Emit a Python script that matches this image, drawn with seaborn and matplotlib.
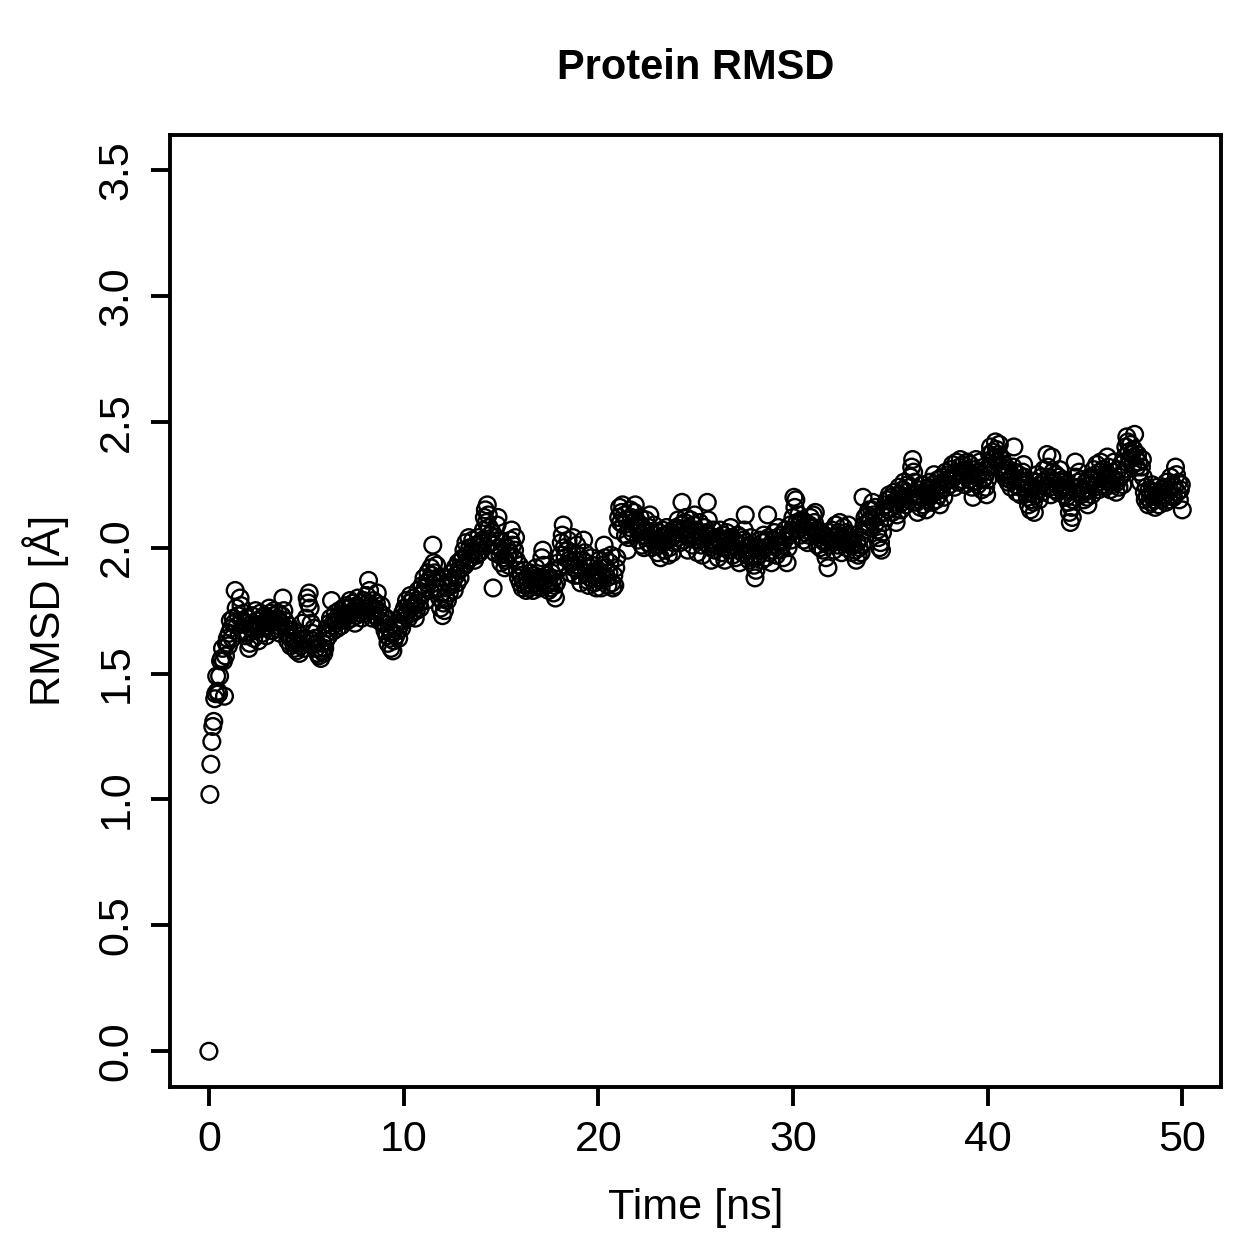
import numpy as np
import pandas as pd
import matplotlib
matplotlib.use("Agg")
import matplotlib.pyplot as plt
import seaborn as sns

# Frame spacing of the trajectory (ns)
time_step_ns = 0.05

# RMSD values (Å), 20 frames per ns
rmsd_00_09 = [
    0.00, 1.02, 1.14, 1.23, 1.29, 1.31, 1.40, 1.42, 1.49, 1.43, 1.42, 1.49, 1.55, 1.56, 1.60, 1.55, 1.41, 1.57, 1.62, 1.64,
    1.61, 1.66, 1.71, 1.68, 1.64, 1.72, 1.70, 1.83, 1.76, 1.69, 1.73, 1.66, 1.80, 1.77, 1.71, 1.67, 1.74, 1.70, 1.65, 1.72,
    1.66, 1.60, 1.62, 1.68, 1.73, 1.70, 1.64, 1.67, 1.75, 1.71, 1.68, 1.63, 1.69, 1.74, 1.72, 1.66, 1.70, 1.73, 1.68, 1.65,
    1.69, 1.72, 1.76, 1.74, 1.70, 1.67, 1.73, 1.75, 1.71, 1.68, 1.72, 1.74, 1.69, 1.66, 1.70, 1.73, 1.80, 1.75, 1.71, 1.68,
    1.66, 1.63, 1.69, 1.65, 1.61, 1.64, 1.67, 1.62, 1.60, 1.63, 1.59, 1.66, 1.62, 1.58, 1.61, 1.65, 1.70, 1.63, 1.60, 1.64,
    1.72, 1.80, 1.78, 1.82, 1.76, 1.70, 1.66, 1.63, 1.68, 1.64, 1.60, 1.62, 1.58, 1.57, 1.60, 1.56, 1.59, 1.62, 1.58, 1.60,
    1.63, 1.66, 1.68, 1.65, 1.70, 1.72, 1.79, 1.69, 1.67, 1.71, 1.74, 1.70, 1.68, 1.72, 1.75, 1.71, 1.69, 1.73, 1.76, 1.72,
    1.74, 1.77, 1.71, 1.73, 1.76, 1.79, 1.74, 1.72, 1.78, 1.75, 1.70, 1.73, 1.77, 1.80, 1.76, 1.74, 1.78, 1.72, 1.75, 1.79,
    1.76, 1.74, 1.81, 1.78, 1.87, 1.83, 1.77, 1.75, 1.72, 1.79, 1.76, 1.73, 1.78, 1.82, 1.75, 1.71, 1.74, 1.77, 1.70, 1.73,
    1.70, 1.67, 1.72, 1.65, 1.62, 1.68, 1.64, 1.60, 1.66, 1.59, 1.63, 1.68, 1.65, 1.70, 1.67, 1.64, 1.69, 1.72, 1.68, 1.74,
]
rmsd_10_19 = [
    1.71, 1.76, 1.73, 1.79, 1.75, 1.72, 1.78, 1.81, 1.76, 1.74, 1.80, 1.77, 1.72, 1.75, 1.79, 1.83, 1.78, 1.76, 1.81, 1.85,
    1.82, 1.88, 1.84, 1.79, 1.86, 1.90, 1.87, 1.83, 1.92, 1.89, 2.01, 1.94, 1.90, 1.86, 1.93, 1.88, 1.84, 1.80, 1.76, 1.82,
    1.73, 1.78, 1.75, 1.80, 1.84, 1.79, 1.86, 1.82, 1.88, 1.85, 1.90, 1.87, 1.83, 1.92, 1.89, 1.86, 1.94, 1.91, 1.88, 1.95,
    1.92, 1.96, 1.99, 1.93, 2.02, 1.97, 1.95, 2.04, 2.00, 1.96, 1.98, 2.03, 1.99, 1.95, 2.01, 1.97, 2.00, 2.04, 1.98, 2.02,
    1.99, 2.03, 2.07, 2.12, 2.15, 2.10, 2.17, 2.13, 2.08, 2.05, 2.02, 2.06, 1.84, 2.01, 1.98, 2.04, 2.09, 2.12, 2.00, 1.97,
    1.94, 1.99, 2.02, 1.96, 1.92, 1.95, 2.00, 1.97, 1.93, 1.98, 2.03, 2.07, 2.01, 1.96, 1.99, 2.04, 1.95, 1.91, 1.88, 1.93,
    1.86, 1.89, 1.84, 1.87, 1.91, 1.85, 1.83, 1.88, 1.86, 1.84, 1.90, 1.87, 1.85, 1.83, 1.89, 1.86, 1.92, 1.88, 1.85, 1.87,
    1.84, 1.88, 1.96, 1.99, 1.93, 1.87, 1.85, 1.89, 1.86, 1.83, 1.88, 1.84, 1.90, 1.87, 1.82, 1.85, 1.80, 1.86, 1.91, 1.94,
    1.92, 1.97, 2.02, 2.05, 2.09, 2.00, 1.96, 1.93, 1.99, 2.03, 1.95, 1.90, 1.94, 1.98, 2.04, 1.92, 1.89, 1.95, 2.01, 1.97,
    1.93, 1.89, 1.86, 1.91, 1.95, 2.03, 1.98, 1.94, 1.90, 1.87, 1.85, 1.92, 1.88, 1.96, 1.93, 1.89, 1.86, 1.90, 1.84, 1.88,
]
rmsd_20_29 = [
    1.91, 1.95, 1.87, 1.84, 1.89, 1.93, 2.01, 1.96, 1.92, 1.88, 1.85, 1.90, 1.94, 1.97, 1.86, 1.84, 1.89, 1.85, 1.92, 1.96,
    2.07, 2.12, 2.16, 2.10, 2.14, 2.17, 2.09, 2.13, 2.05, 2.11, 1.99, 2.04, 2.08, 2.15, 2.12, 2.06, 2.10, 2.14, 2.17, 2.11,
    2.08, 2.03, 2.06, 2.12, 2.09, 2.01, 2.05, 2.00, 2.07, 2.11, 2.04, 2.02, 2.08, 2.13, 2.06, 2.00, 2.03, 2.09, 2.05, 2.01,
    2.03, 1.98, 2.06, 2.01, 1.96, 2.04, 2.07, 2.02, 1.99, 2.05, 2.08, 2.03, 1.97, 2.00, 2.06, 2.04, 1.98, 2.02, 2.07, 2.05,
    2.08, 2.04, 2.11, 2.06, 2.02, 2.09, 2.18, 2.07, 2.03, 2.10, 2.12, 2.05, 1.99, 2.08, 2.04, 2.11, 2.06, 2.01, 2.09, 2.13,
    2.07, 2.03, 1.98, 2.05, 2.10, 2.06, 2.01, 1.97, 2.04, 2.08, 2.02, 2.06, 2.18, 2.11, 2.05, 2.00, 1.95, 2.03, 2.07, 2.02,
    1.99, 2.04, 2.01, 1.96, 2.03, 2.07, 2.02, 1.98, 2.05, 2.00, 1.95, 2.02, 2.06, 2.03, 1.99, 2.04, 2.08, 2.01, 1.97, 2.03,
    2.00, 1.96, 2.02, 2.05, 1.99, 1.94, 2.01, 2.04, 1.98, 2.03, 2.07, 2.13, 2.02, 1.97, 2.00, 1.95, 2.01, 2.04, 1.99, 1.96,
    1.93, 1.88, 1.91, 1.96, 2.00, 1.97, 2.03, 1.99, 1.95, 2.02, 2.05, 2.00, 1.96, 2.03, 2.13, 2.04, 1.98, 2.01, 1.94, 1.99,
    2.03, 2.06, 2.01, 1.97, 2.04, 2.08, 2.02, 1.99, 2.05, 2.01, 1.96, 2.03, 2.07, 2.04, 1.94, 2.00, 2.05, 2.09, 2.03, 2.07,
]
rmsd_30_39 = [
    2.12, 2.20, 2.16, 2.19, 2.10, 2.07, 2.13, 2.09, 2.05, 2.11, 2.08, 2.03, 2.06, 2.10, 2.07, 2.02, 2.05, 2.09, 2.12, 2.06,
    2.08, 2.13, 2.10, 2.14, 2.05, 2.01, 2.07, 2.04, 2.00, 2.06, 2.03, 1.99, 2.05, 2.02, 1.96, 2.04, 1.92, 2.01, 2.06, 2.03,
    2.07, 2.02, 1.99, 2.04, 2.09, 2.05, 2.01, 2.06, 2.10, 2.03, 1.98, 2.04, 2.08, 2.02, 2.06, 2.00, 2.05, 2.09, 2.04, 2.01,
    2.03, 1.98, 2.01, 2.05, 1.99, 1.95, 2.02, 1.97, 2.00, 2.04, 1.98, 2.01, 2.20, 2.09, 2.12, 2.07, 2.13, 2.10, 2.15, 2.08,
    2.11, 2.15, 2.18, 2.13, 2.09, 2.16, 2.12, 2.07, 2.04, 2.00, 2.02, 1.99, 2.06, 2.10, 2.14, 2.17, 2.12, 2.19, 2.15, 2.21,
    2.16, 2.20, 2.14, 2.18, 2.22, 2.17, 2.10, 2.13, 2.19, 2.24, 2.21, 2.15, 2.18, 2.23, 2.26, 2.20, 2.17, 2.22, 2.25, 2.19,
    2.24, 2.28, 2.32, 2.35, 2.30, 2.26, 2.21, 2.18, 2.14, 2.19, 2.23, 2.16, 2.20, 2.25, 2.17, 2.22, 2.19, 2.15, 2.21, 2.24,
    2.20, 2.26, 2.23, 2.18, 2.25, 2.29, 2.22, 2.19, 2.24, 2.27, 2.21, 2.17, 2.23, 2.28, 2.25, 2.20, 2.26, 2.30, 2.24, 2.27,
    2.29, 2.25, 2.31, 2.27, 2.33, 2.28, 2.24, 2.30, 2.34, 2.29, 2.26, 2.32, 2.35, 2.30, 2.27, 2.33, 2.29, 2.25, 2.31, 2.34,
    2.30, 2.27, 2.33, 2.29, 2.24, 2.20, 2.26, 2.31, 2.35, 2.28, 2.25, 2.30, 2.34, 2.29, 2.23, 2.27, 2.32, 2.28, 2.24, 2.21,
]
rmsd_40_50 = [
    2.27, 2.32, 2.37, 2.40, 2.35, 2.38, 2.33, 2.36, 2.42, 2.39, 2.34, 2.37, 2.41, 2.36, 2.32, 2.35, 2.30, 2.33, 2.28, 2.31,
    2.29, 2.26, 2.31, 2.27, 2.24, 2.28, 2.32, 2.40, 2.30, 2.25, 2.22, 2.27, 2.29, 2.24, 2.21, 2.26, 2.30, 2.33, 2.28, 2.23,
    2.25, 2.20, 2.17, 2.22, 2.15, 2.19, 2.24, 2.18, 2.14, 2.21, 2.26, 2.29, 2.23, 2.19, 2.25, 2.28, 2.22, 2.26, 2.31, 2.24,
    2.27, 2.37, 2.32, 2.28, 2.24, 2.21, 2.36, 2.30, 2.26, 2.23, 2.29, 2.25, 2.22, 2.28, 2.31, 2.26, 2.23, 2.27, 2.24, 2.21,
    2.25, 2.20, 2.23, 2.18, 2.14, 2.10, 2.16, 2.12, 2.19, 2.24, 2.34, 2.28, 2.22, 2.26, 2.30, 2.24, 2.21, 2.27, 2.23, 2.19,
    2.22, 2.26, 2.20, 2.17, 2.23, 2.28, 2.25, 2.21, 2.27, 2.31, 2.24, 2.29, 2.33, 2.26, 2.23, 2.30, 2.34, 2.28, 2.25, 2.31,
    2.27, 2.24, 2.29, 2.36, 2.32, 2.26, 2.23, 2.28, 2.25, 2.30, 2.34, 2.27, 2.22, 2.26, 2.31, 2.24, 2.28, 2.33, 2.29, 2.25,
    2.30, 2.36, 2.40, 2.44, 2.42, 2.38, 2.35, 2.41, 2.37, 2.33, 2.39, 2.45, 2.36, 2.32, 2.37, 2.34, 2.30, 2.26, 2.32, 2.35,
    2.28, 2.22, 2.19, 2.24, 2.20, 2.17, 2.23, 2.21, 2.18, 2.25, 2.22, 2.19, 2.16, 2.21, 2.24, 2.20, 2.17, 2.22, 2.19, 2.23,
    2.20, 2.24, 2.21, 2.18, 2.26, 2.22, 2.19, 2.23, 2.28, 2.21, 2.25, 2.20, 2.24, 2.32, 2.29, 2.22, 2.26, 2.19, 2.23, 2.25,
    2.15,
]

x_ticks = [0, 10, 20, 30, 40, 50]
y_ticks = [0.0, 0.5, 1.0, 1.5, 2.0, 2.5, 3.0, 3.5]
y_tick_labels = ["0.0", "0.5", "1.0", "1.5", "2.0", "2.5", "3.0", "3.5"]

rmsd = rmsd_00_09 + rmsd_10_19 + rmsd_20_29 + rmsd_30_39 + rmsd_40_50
frames = np.arange(len(rmsd))
df = pd.DataFrame({"time": frames * time_step_ns, "rmsd": rmsd})

sns.set_theme(style="white")
plt.rcParams["font.family"] = ["Liberation Sans", "DejaVu Sans"]

fig = plt.figure(figsize=(12.59, 12.59), dpi=100)
ax = fig.add_axes([0.135, 0.137, 0.835, 0.756])

sns.scatterplot(data=df, x="time", y="rmsd", ax=ax, marker="o", s=145,
                facecolor="none", edgecolor="black", linewidth=1.7, legend=False)

ax.set_xlim(-2.0, 52.0)
ax.set_ylim(-0.14, 3.64)
ax.set_xticks(x_ticks)
ax.set_xticklabels([str(v) for v in x_ticks])
ax.set_yticks(y_ticks)
ax.set_yticklabels(y_tick_labels, rotation=90, va="center")

for sp in ax.spines.values():
    sp.set_visible(True)
    sp.set_color("black")
    sp.set_linewidth(2.8)

ax.tick_params(axis="both", which="major", direction="out", length=14, width=2.8,
               color="black", labelsize=31, labelcolor="black", left=True, bottom=True)
ax.tick_params(axis="x", pad=10)
ax.tick_params(axis="y", pad=10)

ax.set_xlabel("Time [ns]", fontsize=31, color="black", labelpad=20)
ax.set_ylabel("RMSD [Å]", fontsize=31, color="black", labelpad=20)
ax.set_title("Protein RMSD", fontsize=30, fontweight="bold", color="black", pad=40)

fig.savefig("out.png", dpi=100, facecolor="white")
